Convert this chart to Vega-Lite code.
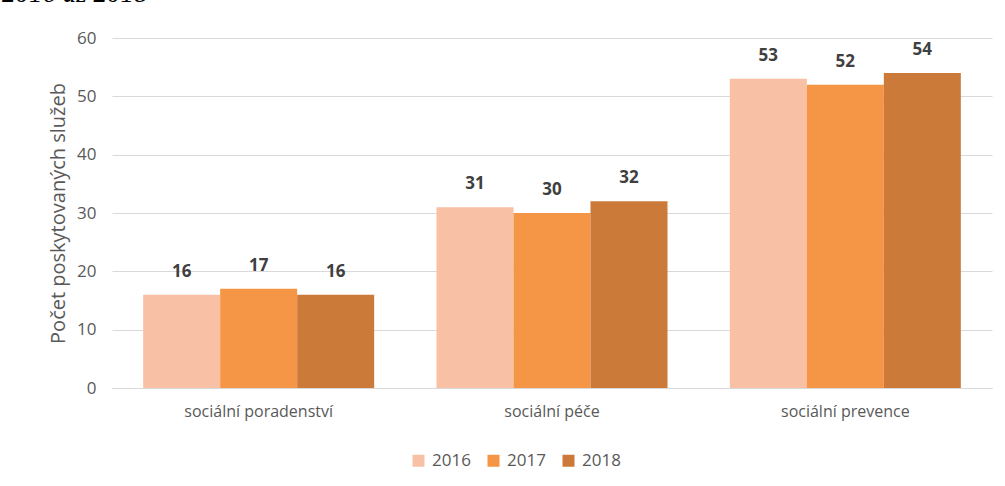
{
  "$schema": "https://vega.github.io/schema/vega-lite/v6.json",
  "autosize": "none",
  "width": 880,
  "height": 350,
  "padding": {"left": 112, "top": 38, "right": 13, "bottom": 98},
  "background": "white",
  "title": {
    "text": "2016 až 2018",
    "font": "Liberation Serif",
    "fontStyle": "italic",
    "fontWeight": "normal",
    "fontSize": 27,
    "color": "black",
    "anchor": "start",
    "frame": "group",
    "dx": -110,
    "offset": 21
  },
  "data": {
    "values": [
      {"kategorie": "sociální poradenství", "rok": "2016", "pocet": 16},
      {"kategorie": "sociální poradenství", "rok": "2017", "pocet": 17},
      {"kategorie": "sociální poradenství", "rok": "2018", "pocet": 16},
      {"kategorie": "sociální péče", "rok": "2016", "pocet": 31},
      {"kategorie": "sociální péče", "rok": "2017", "pocet": 30},
      {"kategorie": "sociální péče", "rok": "2018", "pocet": 32},
      {"kategorie": "sociální prevence", "rok": "2016", "pocet": 53},
      {"kategorie": "sociální prevence", "rok": "2017", "pocet": 52},
      {"kategorie": "sociální prevence", "rok": "2018", "pocet": 54}
    ]
  },
  "encoding": {
    "x": {
      "field": "kategorie",
      "type": "nominal",
      "sort": ["sociální poradenství", "sociální péče", "sociální prevence"],
      "scale": {"paddingInner": 0.2125, "paddingOuter": 0.10625},
      "axis": {
        "title": null,
        "labelAngle": 0,
        "labelFont": "Open Sans",
        "labelFontSize": 16,
        "labelColor": "#595959",
        "labelPadding": 15,
        "ticks": false,
        "domainColor": "#d9d9d9",
        "domainWidth": 1
      }
    },
    "xOffset": {
      "field": "rok",
      "type": "nominal",
      "scale": {"paddingInner": 0, "paddingOuter": 0}
    },
    "y": {
      "field": "pocet",
      "type": "quantitative",
      "scale": {"domain": [0, 60], "nice": false},
      "axis": {
        "values": [0, 10, 20, 30, 40, 50, 60],
        "title": "Počet poskytovaných služeb",
        "titleFont": "Open Sans",
        "titleFontSize": 20,
        "titleFontWeight": "normal",
        "titleColor": "#595959",
        "titlePadding": 8,
        "labelFont": "Open Sans",
        "labelFontSize": 17,
        "labelColor": "#595959",
        "labelPadding": 16,
        "ticks": false,
        "domain": false,
        "gridColor": "#d9d9d9",
        "gridWidth": 1
      }
    }
  },
  "layer": [
    {
      "mark": {"type": "bar"},
      "encoding": {
        "color": {
          "field": "rok",
          "type": "nominal",
          "scale": {"domain": ["2016", "2017", "2018"], "range": ["#F8C1A6", "#F59646", "#CB7A39"]},
          "legend": {
            "title": null,
            "orient": "none",
            "direction": "horizontal",
            "legendX": 298,
            "legendY": 414,
            "symbolType": "square",
            "symbolSize": 144,
            "symbolStrokeWidth": 0,
            "labelFont": "Open Sans",
            "labelFontSize": 17,
            "labelColor": "#595959",
            "labelOffset": 5,
            "columnPadding": 14
          }
        }
      }
    },
    {
      "mark": {
        "type": "text",
        "dy": -14,
        "baseline": "bottom",
        "font": "Open Sans",
        "fontWeight": "bold",
        "fontSize": 17,
        "color": "#404040"
      },
      "encoding": {
        "text": {"field": "pocet", "type": "quantitative"}
      }
    }
  ],
  "config": {
    "view": {"stroke": null}
  }
}
